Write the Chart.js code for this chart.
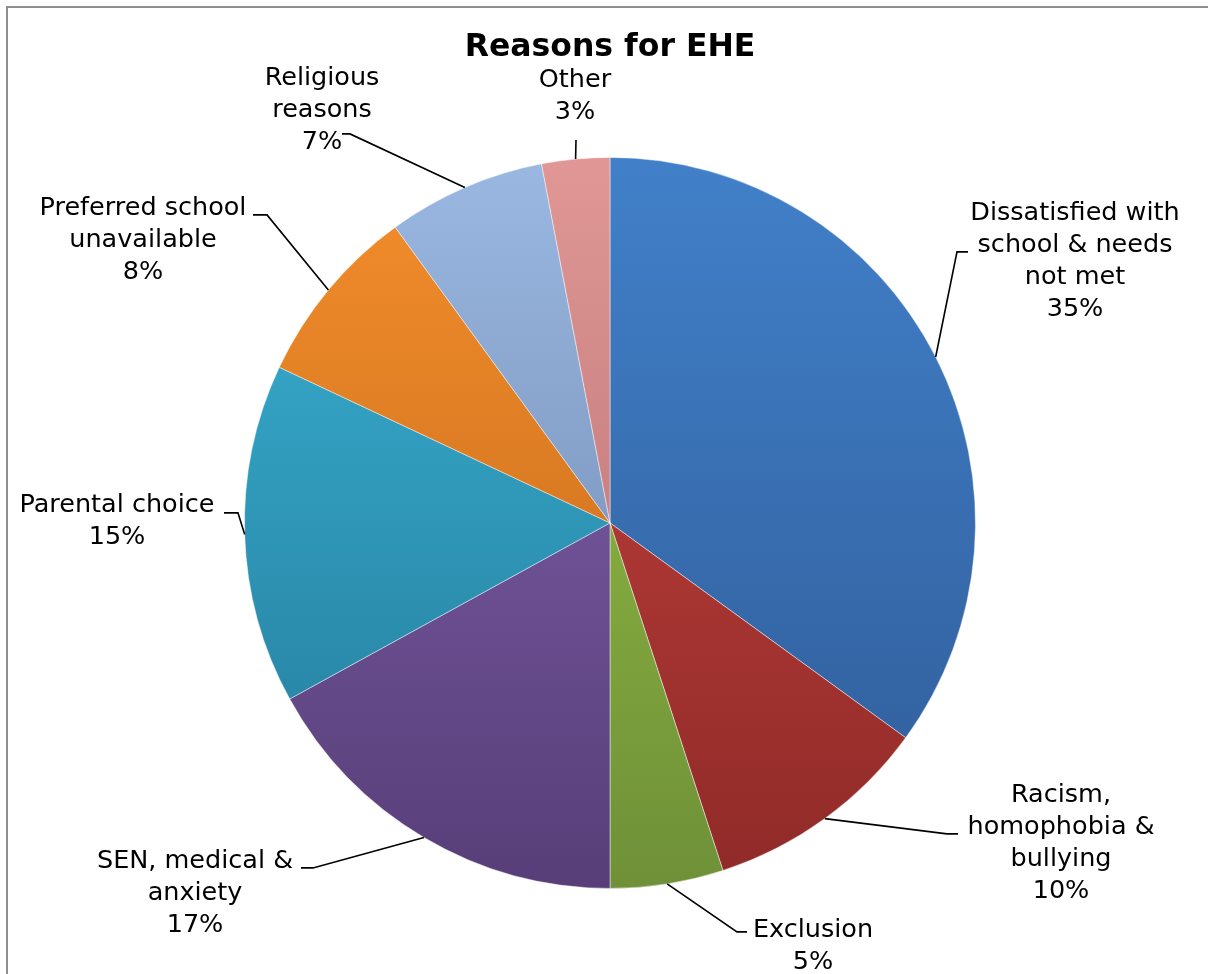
<!DOCTYPE html>
<html>
<head>
<meta charset="utf-8">
<title>Reasons for EHE</title>
<script src="https://cdn.jsdelivr.net/npm/chart.js@4.4.1/dist/chart.umd.min.js"></script>
<style>
  html, body { margin: 0; padding: 0; background: #fff; overflow: hidden; }
  #wrap { position: relative; width: 1208px; height: 974px; }
  #frame { position: absolute; left: 6px; top: 6px; width: 1220px; height: 990px; border: 2px solid #8e8e8e; box-sizing: border-box; }
  canvas { position: absolute; left: 0; top: 0; }
</style>
</head>
<body>
<div id="wrap">
  <div id="frame"></div>
  <canvas id="pieChart" width="1208" height="974"></canvas>
</div>
<script>
// ---- data ----
const categories = [
    ["Dissatisfied with", "school & needs", "not met"],
    ["Racism,", "homophobia &", "bullying"],
    ["Exclusion"],
    ["SEN, medical &", "anxiety"],
    ["Parental choice"],
    ["Preferred school", "unavailable"],
    ["Religious", "reasons"],
    ["Other"]
];
const shares = [35, 10, 5, 17, 15, 8, 7, 3];

// ---- styling ----
const sliceTop = ["#4180c9", "#c9443f", "#98c545", "#8665b3", "#3ab3d4", "#f48e2c", "#9ab8e2", "#e09796"];
const sliceBottom = ["#2f5b97", "#8f2a28", "#6f9038", "#573e78", "#24799a", "#bd6518", "#6a81a8", "#b06c6b"];

// label placement, offsets from pie centre in px: text centre, elbow, leader end
const labelLayout = [
    { text: [465, -262], elbow: [347, -271], end: [358, -271] },
    { text: [451, 320], elbow: [337, 311], end: [348, 311] },
    { text: [203, 423], elbow: [127, 409], end: [137, 409] },
    { text: [-415, 370], elbow: [-297, 345], end: [-309, 345] },
    { text: [-493, -2], elbow: [-372, -10], end: [-386, -10] },
    { text: [-467, -283], elbow: [-343, -308], end: [-357, -308] },
    { text: [-288, -413], elbow: [-260, -389], end: [-268, -389] },
    { text: [-35, -427], elbow: [-34, -383], end: [-34, -383] }
];

const FONT = '"DejaVu Sans", Verdana, sans-serif';

function sliceGradient(context) {
    const chart = context.chart;
    const area = chart.chartArea;
    if (!area) return sliceTop[context.dataIndex];
    const g = chart.ctx.createLinearGradient(0, area.top, 0, area.bottom);
    g.addColorStop(0, sliceTop[context.dataIndex]);
    g.addColorStop(1, sliceBottom[context.dataIndex]);
    return g;
}

/* ===============================
   Outside labels with leader lines
   =============================== */
const outsideLabels = {
    id: "outsideLabels",
    afterDatasetsDraw(chart) {
        const ctx = chart.ctx;
        const arcs = chart.getDatasetMeta(0).data;
        ctx.save();
        ctx.font = "25.5px " + FONT;
        ctx.fillStyle = "#000";
        ctx.strokeStyle = "#000";
        ctx.lineWidth = 1.6;
        ctx.textAlign = "center";
        ctx.textBaseline = "middle";
        const lineH = 32;

        arcs.forEach((arc, i) => {
            const p = arc.getProps(["x", "y", "startAngle", "endAngle", "outerRadius"], true);
            const mid = (p.startAngle + p.endAngle) / 2;
            const ax = p.x + Math.cos(mid) * p.outerRadius;
            const ay = p.y + Math.sin(mid) * p.outerRadius;
            const lay = labelLayout[i];

            ctx.beginPath();
            ctx.moveTo(ax, ay);
            ctx.lineTo(p.x + lay.elbow[0], p.y + lay.elbow[1]);
            ctx.lineTo(p.x + lay.end[0], p.y + lay.end[1]);
            ctx.stroke();

            const lines = categories[i].concat([shares[i] + "%"]);
            const tx = p.x + lay.text[0];
            const ty0 = p.y + lay.text[1] - (lines.length - 1) * lineH / 2;
            lines.forEach((t, k) => ctx.fillText(t, tx, ty0 + k * lineH));
        });
        ctx.restore();
    }
};

new Chart(document.getElementById("pieChart"), {
    type: "pie",
    data: {
        labels: categories.map(c => c.join(" ")),
        datasets: [{
            data: shares,
            backgroundColor: sliceGradient,
            borderColor: "rgba(255,255,255,0.45)",
            borderWidth: 1
        }]
    },
    options: {
        responsive: false,
        animation: false,
        layout: { padding: { left: 244, right: 232, top: 0, bottom: 85 } },
        plugins: {
            legend: { display: false },
            tooltip: { enabled: false },
            title: {
                display: true,
                text: "Reasons for EHE",
                color: "#000",
                font: { family: FONT, size: 31.5, weight: "bold", lineHeight: 1.2 },
                padding: { top: 29, bottom: 90 }
            }
        }
    },
    plugins: [outsideLabels]
});
</script>
</body>
</html>
